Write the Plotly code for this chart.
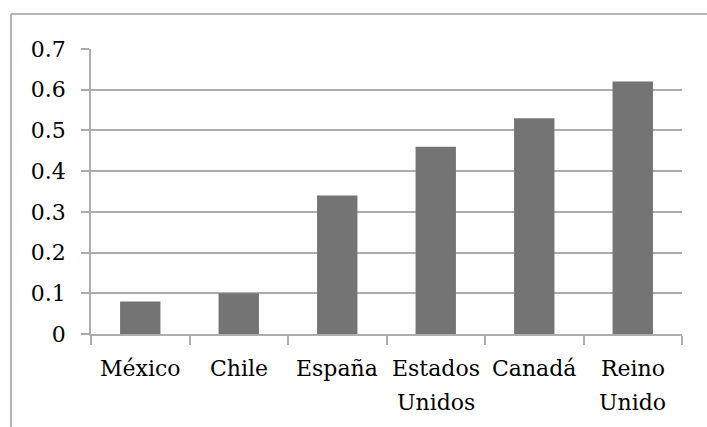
import plotly.graph_objects as go

categories = ["México", "Chile", "España", "Estados Unidos", "Canadá", "Reino Unido"]
values = [0.08, 0.10, 0.34, 0.46, 0.53, 0.62]
y_ticks = [0, 0.1, 0.2, 0.3, 0.4, 0.5, 0.6, 0.7]
y_ticktext = ["0", "0.1", "0.2", "0.3", "0.4", "0.5", "0.6", "0.7"]

grid = "#adadad"
font = dict(family="DejaVu Serif", size=22, color="#000000")

fig = go.Figure(go.Bar(x=categories, y=values, marker=dict(color="#747474", line=dict(width=0)),
                       width=0.41, hoverinfo="skip"))

annotations = []
for cat in categories:
    for i, part in enumerate(cat.split(" ")):
        annotations.append(dict(x=cat, y=0, xref="x", yref="y", text=part, showarrow=False,
                                xanchor="center", yanchor="top", yshift=-20 - i * 33.5,
                                font=font))

fig.update_layout(
    width=707, height=427,
    margin=dict(l=91, r=25, t=49, b=93),
    paper_bgcolor="white", plot_bgcolor="white",
    showlegend=False,
    font=font,
    xaxis=dict(
        type="category", showgrid=False, showline=True, linecolor=grid, linewidth=1.5,
        ticks="outside", tickson="boundaries", ticklen=9, tickcolor=grid, tickwidth=1.5,
        showticklabels=False,
    ),
    yaxis=dict(
        range=[0, 0.7], tickvals=y_ticks, ticktext=y_ticktext,
        showgrid=True, gridcolor=grid, gridwidth=1.5,
        showline=True, linecolor=grid, linewidth=1.5,
        ticks="outside", ticklen=8, tickcolor=grid, tickwidth=1.5,
        tickfont=font, ticklabelstandoff=11, zeroline=False,
    ),
    annotations=annotations,
    shapes=[
        dict(type="line", xref="paper", yref="paper", x0=(11 - 91) / 591, x1=1.2,
             y0=1 + (49 - 14) / 285, y1=1 + (49 - 14) / 285, line=dict(color="#b5b5b5", width=2)),
        dict(type="line", xref="paper", yref="paper", x0=(11 - 91) / 591, x1=(11 - 91) / 591,
             y0=1 + (49 - 14) / 285, y1=-0.5, line=dict(color="#b5b5b5", width=2)),
    ],
)

fig.write_html("out.html", config={"displayModeBar": False},
               post_script="document.body.style.margin='0';")
